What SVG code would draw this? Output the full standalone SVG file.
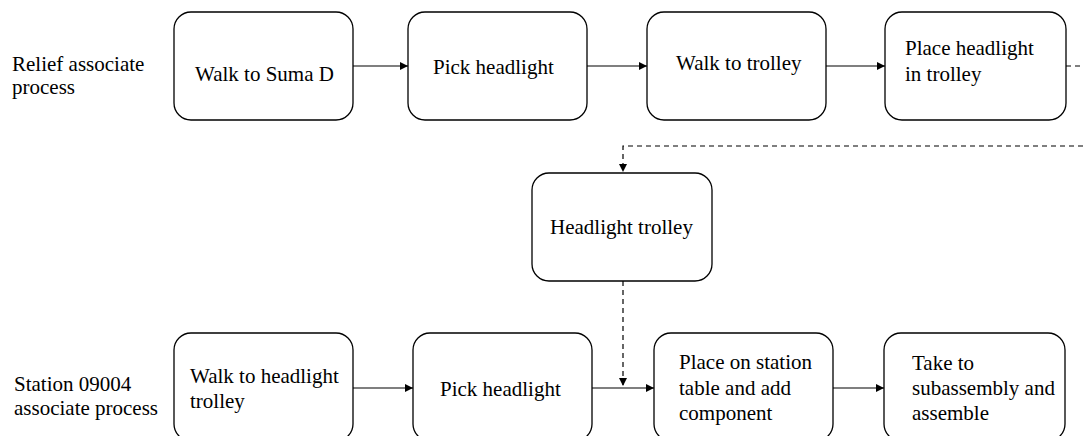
<svg xmlns="http://www.w3.org/2000/svg" width="1083" height="436" viewBox="0 0 1083 436">
<style>
.box{fill:#fff;stroke:#000;stroke-width:1.3}
.t{font-family:"Liberation Serif","Times New Roman",serif;font-size:21px;fill:#000}
.c{fill:none;stroke:#000;stroke-width:1.2}
.d{stroke-dasharray:5,4}
</style>
<defs>
<marker id="ah" viewBox="0 0 10 10" refX="10" refY="5" markerWidth="8" markerHeight="8" markerUnits="userSpaceOnUse" orient="auto">
<path d="M0,0 L10,5 L0,10 Z" fill="#000"/>
</marker>
</defs>
<rect width="1083" height="436" fill="#fff"/>
<g id="label-relief">
<text class="t" x="12" y="71">Relief associate</text>
<text class="t" x="12" y="94">process</text>
</g>
<g id="label-station">
<text class="t" x="14" y="391">Station 09004</text>
<text class="t" x="14" y="415">associate process</text>
</g>
<g id="connectors">
<path class="c" d="M353,66 H408" marker-end="url(#ah)"/>
<path class="c" d="M587,66 H647" marker-end="url(#ah)"/>
<path class="c" d="M826,66 H885" marker-end="url(#ah)"/>
<path class="c d" d="M1066,66 H1083"/>
<path class="c d" d="M1083,146 H623 V172" marker-end="url(#ah)"/>
<path class="c d" d="M623,281 V386" marker-end="url(#ah)"/>
<path class="c" d="M353,388 H413" marker-end="url(#ah)"/>
<path class="c" d="M592,388 H654" marker-end="url(#ah)"/>
<path class="c" d="M833,388 H884" marker-end="url(#ah)"/>
</g>
<g id="n1">
<rect class="box" x="174" y="12" width="179" height="108" rx="17"/>
<text class="t" x="195" y="81">Walk to Suma D</text>
</g>
<g id="n2">
<rect class="box" x="408" y="12" width="179" height="108" rx="17"/>
<text class="t" x="433" y="74">Pick headlight</text>
</g>
<g id="n3">
<rect class="box" x="647" y="12" width="179" height="108" rx="17"/>
<text class="t" x="676" y="70">Walk to trolley</text>
</g>
<g id="n4">
<rect class="box" x="885" y="12" width="181" height="108" rx="17"/>
<text class="t" x="905" y="55">Place headlight</text>
<text class="t" x="905" y="81">in trolley</text>
</g>
<g id="n5">
<rect class="box" x="532" y="173" width="180" height="108" rx="17"/>
<text class="t" x="550" y="234">Headlight trolley</text>
</g>
<g id="n6">
<rect class="box" x="174" y="333" width="179" height="108" rx="17"/>
<text class="t" x="190" y="383">Walk to headlight</text>
<text class="t" x="190" y="408">trolley</text>
</g>
<g id="n7">
<rect class="box" x="413" y="333" width="179" height="108" rx="17"/>
<text class="t" x="440" y="396">Pick headlight</text>
</g>
<g id="n8">
<rect class="box" x="654" y="333" width="179" height="108" rx="17"/>
<text class="t" x="679" y="369">Place on station</text>
<text class="t" x="679" y="395">table and add</text>
<text class="t" x="679" y="420">component</text>
</g>
<g id="n9">
<rect class="box" x="884" y="333" width="181" height="108" rx="17"/>
<text class="t" x="912" y="370">Take to</text>
<text class="t" x="912" y="395">subassembly and</text>
<text class="t" x="912" y="420">assemble</text>
</g>
</svg>
